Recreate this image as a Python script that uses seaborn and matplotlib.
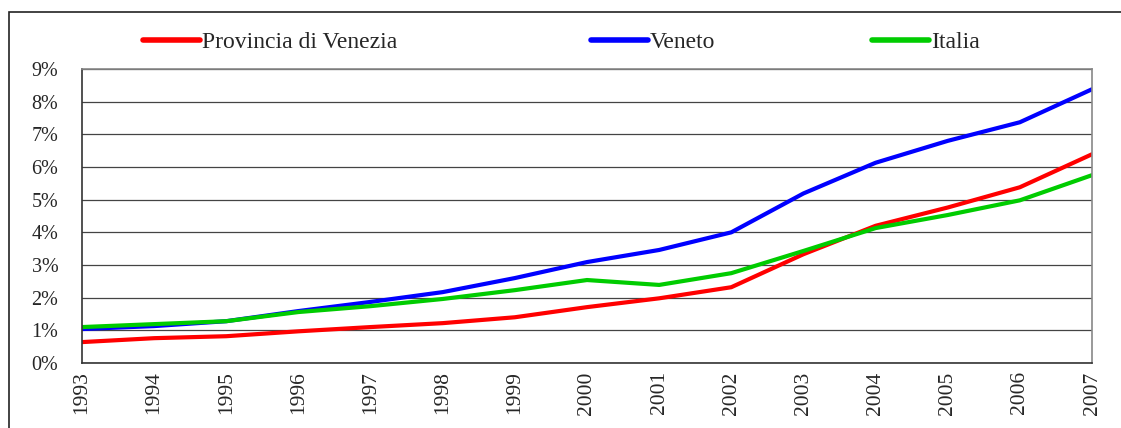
import pandas as pd
import seaborn as sns
import matplotlib.pyplot as plt
from matplotlib.patches import Rectangle
from matplotlib.lines import Line2D

years = list(range(1993, 2008))
venezia = [0.64, 0.76, 0.82, 0.97, 1.10, 1.22, 1.40, 1.71, 1.98, 2.32, 3.33, 4.20, 4.76, 5.38, 6.39]
veneto = [1.04, 1.13, 1.28, 1.59, 1.87, 2.17, 2.60, 3.09, 3.46, 4.00, 5.19, 6.13, 6.80, 7.37, 8.38]
italia = [1.10, 1.19, 1.28, 1.56, 1.74, 1.96, 2.23, 2.54, 2.39, 2.75, 3.43, 4.13, 4.53, 4.98, 5.75]
series_names = ["Provincia di Venezia", "Veneto", "Italia"]
colors = ["#FF0000", "#0000FF", "#00CC00"]

df = pd.DataFrame({"anno": years * 3,
                   "valore": venezia + veneto + italia,
                   "serie": [s for s in series_names for _ in years]})

sns.set_style("white")
plt.rcParams['font.family'] = ['Liberation Serif', 'DejaVu Serif']

fig = plt.figure(figsize=(11.21, 4.28), dpi=100)
ax = fig.add_axes([82 / 1121, 1 - 363 / 428, (1092 - 82) / 1121, (363 - 69) / 428])

sns.lineplot(data=df, x="anno", y="valore", hue="serie", palette=colors,
             hue_order=series_names, linewidth=3, ax=ax, legend=False)

# grid / axes styling
ax.set_xlim(1993, 2007)
ax.set_ylim(0, 9)
ax.set_yticks(range(0, 10))
ax.set_yticklabels([f"{i}%" for i in range(0, 10)], fontsize=14.5)
ax.set_xticks(years)
ax.set_xticklabels([str(y) for y in years], rotation=90, fontsize=15.5)
ax.yaxis.grid(True, color="#444444", linewidth=0.9)
ax.set_axisbelow(True)
ax.set_xlabel("")
ax.set_ylabel("")
ax.tick_params(axis="y", direction="out", length=8, width=1, color="#333333", pad=9)
ax.tick_params(axis="x", direction="in", length=6, width=1, color="#333333", pad=6)
for side in ["left", "bottom"]:
    ax.spines[side].set_color("#333333")
    ax.spines[side].set_linewidth(1.2)
for side in ["right", "top"]:
    ax.spines[side].set_color("#888888")
    ax.spines[side].set_linewidth(1.2)

# legend entries spread across the top
legend_x = [143 / 1121, 591 / 1121, 872 / 1121]
for name, col, lx in zip(series_names, colors, legend_x):
    h = Line2D([], [], color=col, linewidth=4, solid_capstyle="round")
    fig.legend([h], [name], loc="center left", bbox_to_anchor=(lx, 1 - 42 / 428),
               frameon=False, fontsize=17, handlelength=2.4, handletextpad=0.1,
               borderpad=0, borderaxespad=0)

# outer frame
fig.patches.append(Rectangle((9 / 1121, -0.1), 1.2, 1 - 12 / 428 + 0.1,
                             transform=fig.transFigure, fill=False,
                             edgecolor="#222222", linewidth=1.2))

fig.savefig("out.png", dpi=100)
